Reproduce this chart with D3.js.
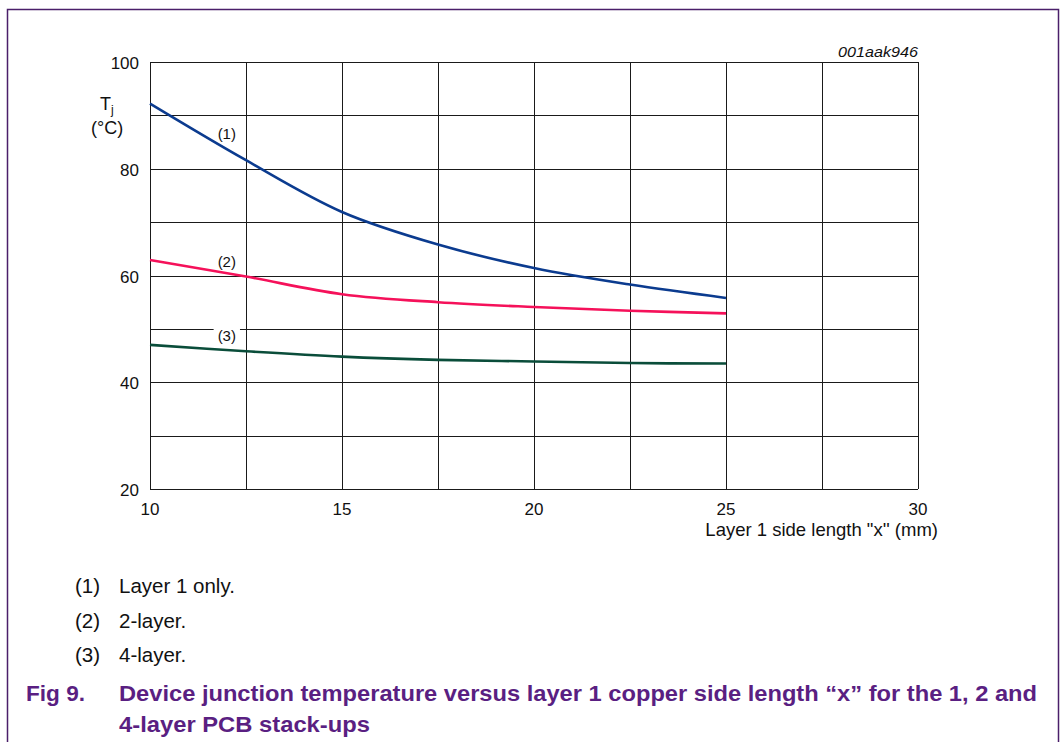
<!DOCTYPE html>
<html>
<head>
<meta charset="utf-8">
<script src="https://cdn.jsdelivr.net/npm/d3@7"></script>
<style>
  html, body { margin: 0; padding: 0; background: #fff; }
  svg { display: block; font-family: "Liberation Sans", Arial, sans-serif; }
</style>
</head>
<body>
<svg id="chart" width="1063" height="742"></svg>
<script>
// Layer 1 copper side length (mm)
const sideLength = [10, 12.5, 15, 17.5, 20, 22.5, 25];
// Junction temperature Tj (°C) for each PCB stack-up
const layer1Only = [92.2, 81.6, 71.9, 65.8, 61.4, 58.3, 55.8];
const twoLayer   = [62.9, 59.8, 56.5, 55.0, 54.1, 53.4, 52.9];
const fourLayer  = [47.0, 45.8, 44.8, 44.2, 43.9, 43.6, 43.5];

const xTicks = [10, 15, 20, 25, 30];
const yTicks = [20, 40, 60, 80, 100];
const xGrid = [10, 12.5, 15, 17.5, 20, 22.5, 25, 27.5, 30];
const yGrid = [20, 30, 40, 50, 60, 70, 80, 90, 100];

const seriesNames = ["(1)", "(2)", "(3)"];
const seriesLabelAt = [[12.0, 85.6], [12.0, 61.6], [12.0, 47.8]];
const notes = ["Layer 1 only.", "2-layer.", "4-layer."];
const seriesColors = ["#0b3b8f", "#f5115a", "#0a4d3a"];

const svg = d3.select("#chart");
const purple = "#5a1f82";
const ink = "#111";

// figure frame
svg.append("rect")
  .attr("x", 7.5).attr("y", 9.5)
  .attr("width", 1051).attr("height", 760)
  .attr("fill", "none").attr("stroke", "#4a1f6a").attr("stroke-width", 1.5);

const x = d3.scaleLinear().domain([10, 30]).range([150, 918]);
const y = d3.scaleLinear().domain([20, 100]).range([489, 62]);

const grid = svg.append("g").attr("stroke", "#1a1a1a").attr("stroke-width", 1);
grid.selectAll(".gx").data(xGrid).join("line")
  .attr("x1", d => Math.round(x(d)) + 0.5).attr("x2", d => Math.round(x(d)) + 0.5)
  .attr("y1", y(20)).attr("y2", y(100));
grid.selectAll(".gy").data(yGrid).join("line")
  .attr("y1", d => Math.round(y(d)) + 0.5).attr("y2", d => Math.round(y(d)) + 0.5)
  .attr("x1", x(10)).attr("x2", x(30));

// tick labels
svg.append("g").selectAll("text").data(yTicks).join("text")
  .attr("x", 139).attr("y", d => y(d) + 7)
  .attr("text-anchor", "end").attr("font-size", 17).attr("fill", ink)
  .text(d => d);
svg.append("g").selectAll("text").data(xTicks).join("text")
  .attr("x", d => x(d)).attr("y", 515)
  .attr("text-anchor", "middle").attr("font-size", 17).attr("fill", ink)
  .text(d => d);

svg.append("text").attr("x", 938).attr("y", 536).attr("text-anchor", "end")
  .attr("font-size", 18.5).attr("fill", ink)
  .text("Layer 1 side length \"x'' (mm)");

// axis quantity: Tj with unit underneath
const tj = svg.append("text").attr("x", 100).attr("y", 110).attr("font-size", 18).attr("fill", ink);
tj.append("tspan").text("T");
tj.append("tspan").attr("dy", 4).attr("font-size", 12).text("j");
svg.append("text").attr("x", 91).attr("y", 134).attr("font-size", 18).attr("fill", ink).text("(°C)");

svg.append("text").attr("x", 918).attr("y", 57).attr("text-anchor", "end")
  .attr("font-size", 15).attr("font-style", "italic").attr("fill", ink)
  .attr("textLength", 80).attr("lengthAdjust", "spacingAndGlyphs").text("001aak946");

// curves
const line = d3.line().x(d => x(d[0])).y(d => y(d[1])).curve(d3.curveCatmullRom.alpha(0.5));
[layer1Only, twoLayer, fourLayer].forEach((vals, i) => {
  svg.append("path")
    .datum(sideLength.map((s, k) => [s, vals[k]]))
    .attr("d", line)
    .attr("fill", "none")
    .attr("stroke", seriesColors[i])
    .attr("stroke-width", 2.6);
});

// curve labels
seriesNames.forEach((name, i) => {
  const g = svg.append("g");
  const t = g.append("text")
    .attr("x", x(seriesLabelAt[i][0])).attr("y", y(seriesLabelAt[i][1]))
    .attr("text-anchor", "middle").attr("font-size", 15).attr("fill", ink).text(name);
  if (i === 2) {
    const bb = t.node().getBBox();
    g.insert("rect", "text").attr("x", bb.x - 4).attr("y", bb.y).attr("width", bb.width + 8)
      .attr("height", bb.height).attr("fill", "#fff");
  }
});

// notes
notes.forEach((n, i) => {
  svg.append("text").attr("x", 75).attr("y", 593 + i * 34.5).attr("font-size", 20.5).attr("fill", ink)
    .text(seriesNames[i]);
  svg.append("text").attr("x", 119).attr("y", 593 + i * 34.5).attr("font-size", 20.5).attr("fill", ink)
    .text(n);
});

// caption
const cap = svg.append("g").attr("font-size", 22).attr("font-weight", "bold").attr("fill", purple);
const capLines = [
  { x: 26, y: 701, w: 59, t: "Fig 9." },
  { x: 119, y: 701, w: 918, t: "Device junction temperature versus layer 1 copper side length \u201cx\u201d for the 1, 2 and" },
  { x: 119, y: 732, w: 251, t: "4-layer PCB stack-ups" }
];
capLines.forEach(c => {
  cap.append("text").attr("x", c.x).attr("y", c.y)
    .attr("textLength", c.w).attr("lengthAdjust", "spacingAndGlyphs").text(c.t);
});
</script>
</body>
</html>
